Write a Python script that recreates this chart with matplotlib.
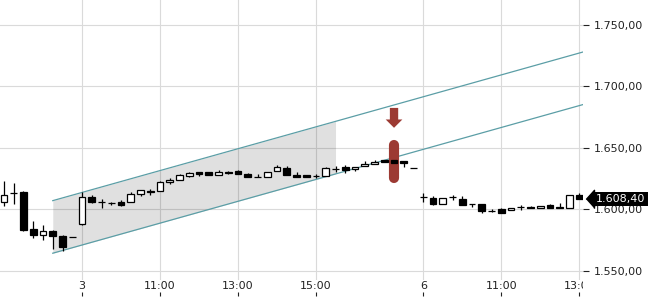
import matplotlib
matplotlib.use('Agg')
import matplotlib.pyplot as plt
import matplotlib.transforms as mtrans
from matplotlib.ticker import FuncFormatter
import numpy as np

# ---- data (15-minute candles, index 0 = day "3" 09:00) ----
idx = list(range(-8, 52))
opens = [1605.9, 1613.0, 1613.7, 1584.1, 1579.3, 1582.0, 1578.5, 1577.6,
         1588.0, 1609.9, 1606.1, 1605.1, 1605.5, 1606.3, 1612.4, 1614.6,
         1615.0, 1621.8, 1624.0, 1627.2, 1630.7, 1630.2, 1628.0, 1630.3,
         1631.1, 1629.1, 1626.6, 1626.2, 1631.5, 1633.5, 1628.0, 1627.5,
         1627.1, 1626.7, 1633.1, 1634.0, 1632.9, 1635.4, 1637.1, 1640.0,
         1639.7, 1638.9, 1633.6,
         1610.1, 1609.1, 1604.5, 1610.1, 1608.3, 1604.4, 1604.5, 1598.9,
         1600.0, 1599.0, 1601.9, 1601.6, 1601.0, 1603.1, 1601.6, 1601.0,
         1611.8]
highs = [1622.6, 1621.3, 1614.5, 1590.7, 1587.4, 1582.8, 1579.3, 1577.6,
         1614.0, 1611.8, 1608.3, 1606.1, 1607.2, 1614.0, 1615.3, 1616.7,
         1623.4, 1625.4, 1628.9, 1630.7, 1630.7, 1630.2, 1632.0, 1631.3,
         1632.1, 1629.9, 1629.0, 1630.7, 1636.2, 1635.4, 1630.5, 1628.0,
         1628.9, 1634.0, 1635.4, 1636.2, 1634.8, 1638.9, 1640.2, 1640.0,
         1640.2, 1638.9, 1633.6,
         1613.2, 1610.4, 1609.1, 1611.8, 1611.0, 1604.5, 1604.5, 1600.0,
         1601.0, 1601.0, 1603.7, 1602.5, 1602.8, 1604.3, 1605.0, 1611.2,
         1613.0]
lows = [1602.3, 1604.2, 1582.0, 1576.6, 1575.2, 1567.9, 1565.7, 1577.2,
        1587.4, 1605.0, 1601.0, 1603.4, 1602.3, 1606.3, 1611.0, 1611.8,
        1615.0, 1620.7, 1624.0, 1626.2, 1626.7, 1627.5, 1628.0, 1628.6,
        1628.6, 1626.2, 1626.2, 1626.2, 1631.5, 1627.5, 1626.2, 1626.2,
        1625.6, 1626.7, 1630.7, 1629.4, 1631.5, 1635.4, 1637.1, 1638.6,
        1638.0, 1634.3, 1633.4,
        1606.3, 1603.1, 1604.5, 1607.7, 1603.1, 1601.5, 1596.9, 1597.5,
        1597.0, 1599.0, 1599.6, 1600.8, 1601.0, 1601.0, 1601.4, 1601.0,
        1608.4]
closes = [1611.8, 1613.4, 1583.3, 1578.7, 1582.0, 1577.9, 1569.3, 1577.2,
          1609.9, 1605.9, 1605.8, 1604.9, 1603.5, 1612.4, 1615.3, 1614.4,
          1621.8, 1624.0, 1628.0, 1629.4, 1628.9, 1627.5, 1630.0, 1629.8,
          1628.6, 1626.2, 1626.4, 1630.7, 1634.3, 1627.5, 1626.2, 1626.2,
          1626.9, 1633.5, 1632.9, 1632.1, 1634.8, 1637.1, 1638.6, 1638.6,
          1638.0, 1637.6, 1633.4,
          1609.9, 1604.5, 1609.1, 1609.9, 1603.1, 1604.2, 1598.2, 1598.7,
          1597.0, 1601.0, 1601.7, 1601.4, 1602.8, 1601.0, 1601.4, 1611.2,
          1608.4]

tick_idx = [0, 8, 16, 24, 35, 43, 51]
tick_labels = ['3', '11:00', '13:00', '15:00', '6', '11:00', '13:00']
y_ticks = [1550, 1600, 1650, 1700, 1750]

# trend channel anchors
chan_x = [-3, 52]
chan_upper = [1607.0, 1729.4]
chan_lower = [1564.2, 1686.6]
shade_x = [-3, 26]

# signal
signal_idx = 32
signal_bar = [1625.6, 1652.4]
signal_arrow = [1682.5, 1666.3]

last_close = closes[-1]

# ---- figure ----
W, H = 650, 300
fig = plt.figure(figsize=(6.5, 3.0), dpi=100)
ax = fig.add_axes([0, 20 / H, 583 / W, 280 / H])
ax.set_xlim(-8.41, 51.38)
ax.set_ylim(1542.4, 1770.35)

for s in ax.spines.values():
    s.set_visible(False)

ax.grid(True, color='#dadada', lw=0.8)
ax.set_axisbelow(True)

# channel shading and lines
su = np.interp(shade_x, chan_x, chan_upper)
sl = np.interp(shade_x, chan_x, chan_lower)
ax.fill_between(shade_x, sl, su, color='black', alpha=0.12, lw=0, zorder=1)
ax.plot(chan_x, chan_upper, color='#5b9ea6', lw=0.9, zorder=2)
ax.plot(chan_x, chan_lower, color='#5b9ea6', lw=0.9, zorder=2)

# signal marker
red = '#9c3a33'
ax.plot([signal_idx, signal_idx], signal_bar, color=red, lw=7.3,
        solid_capstyle='round', zorder=2.5)
ax.annotate('', xy=(signal_idx, signal_arrow[1]), xytext=(signal_idx, signal_arrow[0]),
            arrowprops=dict(arrowstyle='simple,head_length=0.5,head_width=1.0,tail_width=0.5',
                            mutation_scale=12, fc=red, ec='none', shrinkA=0, shrinkB=0),
            zorder=3)

# candles
o = np.array(opens); c = np.array(closes); h = np.array(highs); l = np.array(lows)
ax.vlines(idx, l, h, color='black', lw=0.9, zorder=3)
bottoms = np.minimum(o, c)
heights = np.maximum(np.abs(c - o), 0.05)
cols = ['white' if cc >= oo else 'black' for oo, cc in zip(o, c)]
ax.bar(idx, heights, bottom=bottoms, width=0.68, color=cols, edgecolor='black',
       lw=0.9, zorder=4)

# y axis on right
ax.yaxis.tick_right()
ax.set_yticks(y_ticks)
def fmt(v, pos):
    s = f"{v:,.2f}"
    return s.replace(',', 'X').replace('.', ',').replace('X', '.')
ax.yaxis.set_major_formatter(FuncFormatter(fmt))
ax.tick_params(axis='y', length=4.5, width=0.8, pad=3, labelsize=8,
               colors='#222222')

# x axis
ax.set_xticks(tick_idx)
ax.set_xticklabels(tick_labels)
ax.tick_params(axis='x', length=0, pad=0.5, labelsize=8, colors='#222222')
clip_bb = mtrans.TransformedBbox(mtrans.Bbox([[0, 0], [583 / W, 1]]), fig.transFigure)
for lbl in ax.get_xticklabels():
    lbl.set_clip_box(clip_bb)
    lbl.set_clip_on(True)

sec = ax.secondary_xaxis(-16 / 280)
sec.set_xticks(tick_idx)
sec.tick_params(axis='x', direction='in', length=3, width=0.8, labelbottom=False,
                colors='#222222')
for s in sec.spines.values():
    s.set_visible(False)

# last price label
trans = mtrans.blended_transform_factory(fig.transFigure, ax.transData)
ax.text(596 / W, last_close, fmt(last_close, None), transform=trans, ha='left',
        va='center', color='white', fontsize=8, clip_on=False, zorder=10,
        bbox=dict(boxstyle='square,pad=0.2', fc='black', ec='none'))
ax.plot([594 / W], [last_close], transform=trans, marker=[(-0.9, 0), (0, 1), (0, -1)],
        ms=13.2, color='black', clip_on=False, zorder=10, lw=0)

fig.savefig('out.png', dpi=100)
